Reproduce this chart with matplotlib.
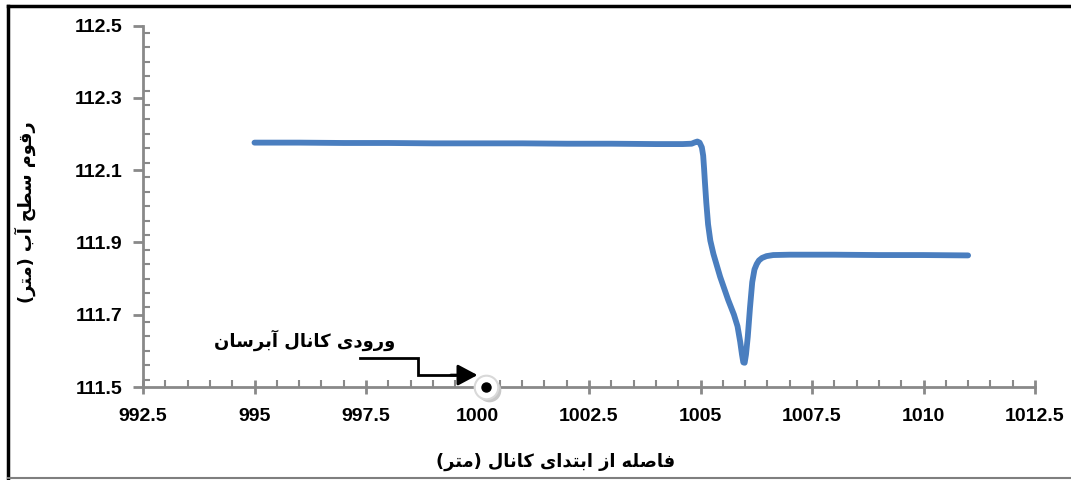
import matplotlib
matplotlib.use("Agg")
import matplotlib.pyplot as plt
from matplotlib.lines import Line2D
from matplotlib.ticker import MultipleLocator

# water surface profile along the canal
distance = [995, 996, 997, 998, 999, 1000, 1001, 1002, 1003, 1004, 1004.6, 1004.8,
            1004.88, 1004.93, 1004.98, 1005.03, 1005.06, 1005.08, 1005.1, 1005.13,
            1005.17, 1005.22, 1005.29, 1005.44, 1005.62, 1005.75, 1005.83, 1005.89,
            1005.93, 1005.96, 1005.99, 1006.02, 1006.06, 1006.11, 1006.16, 1006.21,
            1006.26, 1006.31, 1006.38, 1006.48, 1006.63, 1007, 1008, 1009, 1010, 1011]
level = [112.176, 112.176, 112.175, 112.175, 112.174, 112.174, 112.174, 112.173, 112.173,
         112.172, 112.172, 112.173, 112.177, 112.179, 112.176, 112.163, 112.140, 112.105,
         112.065, 112.010, 111.950, 111.905, 111.868, 111.805, 111.741, 111.700, 111.668,
         111.625, 111.590, 111.568, 111.567, 111.590, 111.639, 111.720, 111.790, 111.825,
         111.840, 111.850, 111.857, 111.862, 111.865, 111.866, 111.866, 111.865, 111.865,
         111.864]

entrance_x = 1000.2
entrance_y = 111.5

x_ticks = [992.5, 995, 997.5, 1000, 1002.5, 1005, 1007.5, 1010, 1012.5]
y_ticks = [111.5, 111.7, 111.9, 112.1, 112.3, 112.5]

xlabel_text = "فاصله از ابتدای کانال (متر)"
ylabel_text = "رقوم سطح آب (متر)"
note_text = "ورودی کانال آبرسان"


# matplotlib does no arabic shaping, so map letters to presentation forms
# (isolated, final, initial, medial); None = does not join to the next letter
FORMS = {
    'ا': ('\uFE8D', '\uFE8E', None, None),
    'آ': ('\uFE81', '\uFE82', None, None),
    'ب': ('\uFE8F', '\uFE90', '\uFE91', '\uFE92'),
    'ت': ('\uFE95', '\uFE96', '\uFE97', '\uFE98'),
    'ح': ('\uFEA1', '\uFEA2', '\uFEA3', '\uFEA4'),
    'د': ('\uFEA9', '\uFEAA', None, None),
    'ر': ('\uFEAD', '\uFEAE', None, None),
    'ز': ('\uFEAF', '\uFEB0', None, None),
    'س': ('\uFEB1', '\uFEB2', '\uFEB3', '\uFEB4'),
    'ص': ('\uFEB9', '\uFEBA', '\uFEBB', '\uFEBC'),
    'ط': ('\uFEC1', '\uFEC2', '\uFEC3', '\uFEC4'),
    'ف': ('\uFED1', '\uFED2', '\uFED3', '\uFED4'),
    'ق': ('\uFED5', '\uFED6', '\uFED7', '\uFED8'),
    'ل': ('\uFEDD', '\uFEDE', '\uFEDF', '\uFEE0'),
    'م': ('\uFEE1', '\uFEE2', '\uFEE3', '\uFEE4'),
    'ن': ('\uFEE5', '\uFEE6', '\uFEE7', '\uFEE8'),
    'ه': ('\uFEE9', '\uFEEA', '\uFEEB', '\uFEEC'),
    'و': ('\uFEED', '\uFEEE', None, None),
    'ی': ('\uFBFC', '\uFBFD', '\uFBFE', '\uFBFF'),
    'ک': ('\uFB8E', '\uFB8F', '\uFB90', '\uFB91'),
}
MIRROR = {'(': ')', ')': '('}


def shape(text):
    out = []
    n = len(text)
    for i, ch in enumerate(text):
        if ch not in FORMS:
            out.append(ch)
            continue
        prev = text[i - 1] if i > 0 else ''
        nxt = text[i + 1] if i < n - 1 else ''
        joins_prev = prev in FORMS and FORMS[prev][2] is not None
        joins_next = nxt in FORMS and FORMS[ch][2] is not None
        iso, fin, ini, med = FORMS[ch]
        if joins_prev and joins_next:
            out.append(med)
        elif joins_prev:
            out.append(fin)
        elif joins_next:
            out.append(ini)
        else:
            out.append(iso)
    # right-to-left: reverse into visual order
    return ''.join(MIRROR.get(c, c) for c in reversed(out))


plt.rcParams['font.family'] = ['Liberation Sans', 'DejaVu Sans']

fig = plt.figure(figsize=(10.71, 4.8), dpi=100)
ax = fig.add_axes([143 / 1071, 1 - 387 / 480, (1035 - 143) / 1071, (387 - 25.5) / 480])

ax.plot(distance, level, color='#4a7ebf', linewidth=4.2, solid_capstyle='round',
        solid_joinstyle='round', zorder=3)

ax.set_xlim(992.5, 1012.5)
ax.set_ylim(111.5, 112.5)
ax.set_xticks(x_ticks)
ax.set_yticks(y_ticks)
ax.set_xticklabels([f"{v:g}" for v in x_ticks])
ax.set_yticklabels([f"{v:.1f}" for v in y_ticks])
ax.xaxis.set_minor_locator(MultipleLocator(0.5))
ax.yaxis.set_minor_locator(MultipleLocator(0.04))

for s in ['top', 'right']:
    ax.spines[s].set_visible(False)
for s in ['left', 'bottom']:
    ax.spines[s].set_color('#898989')
    ax.spines[s].set_linewidth(2)

ax.tick_params(axis='x', which='major', direction='inout', length=10, width=2,
               color='#898989', pad=10, labelsize=14)
ax.tick_params(axis='y', which='major', direction='out', length=7, width=2,
               color='#898989', pad=8, labelsize=14)
ax.tick_params(which='minor', direction='in', length=5, width=1.5, color='#898989')
for lab in ax.get_xticklabels() + ax.get_yticklabels():
    lab.set_fontweight('bold')

# entrance marker on the axis
ax.plot([entrance_x + 0.06], [entrance_y - 0.008], 'o', markersize=17, color='#c8c8c8',
        markeredgewidth=0, clip_on=False, zorder=4)
ax.plot([entrance_x], [entrance_y], 'o', markersize=17, markerfacecolor='white',
        markeredgecolor='#d9d9d9', markeredgewidth=1.5, clip_on=False, zorder=5)
ax.plot([entrance_x], [entrance_y], 'o', markersize=6.5, color='black',
        clip_on=False, zorder=6)

# arrow from note to entrance
ax.plot([997.37, 998.67, 998.67, 999.5], [111.580, 111.580, 111.533, 111.533],
        color='black', linewidth=2, solid_joinstyle='miter', zorder=4)
ax.annotate('', xy=(1000.0, 111.533), xytext=(999.4, 111.533),
            arrowprops=dict(arrowstyle='-|>,head_length=0.75,head_width=0.4',
                            mutation_scale=16, color='black', lw=2,
                            shrinkA=0, shrinkB=0), zorder=4)

ax.text(996.12, 111.63, shape(note_text), ha='center', va='center', fontsize=13,
        fontweight='bold', family='DejaVu Sans')

fig.text(556 / 1071, 1 - 462 / 480, shape(xlabel_text), ha='center', va='center',
         fontsize=12.8, fontweight='bold', family='DejaVu Sans')
fig.text(25 / 1071, 1 - 212 / 480, shape(ylabel_text), ha='center', va='center',
         rotation=90, fontsize=12.8, fontweight='bold', family='DejaVu Sans')

# outer frame (left/top dark, bottom light, right cut off)
fig.add_artist(Line2D([8 / 1071, 8 / 1071], [1 - 478 / 480, 1 - 6 / 480],
                      transform=fig.transFigure, color='black', linewidth=2.5))
fig.add_artist(Line2D([8 / 1071, 1], [1 - 6 / 480, 1 - 6 / 480],
                      transform=fig.transFigure, color='black', linewidth=2.5))
fig.add_artist(Line2D([8 / 1071, 1], [1 - 478 / 480, 1 - 478 / 480],
                      transform=fig.transFigure, color='#7f7f7f', linewidth=1.5))

fig.savefig('out.png', dpi=100, facecolor='white')
